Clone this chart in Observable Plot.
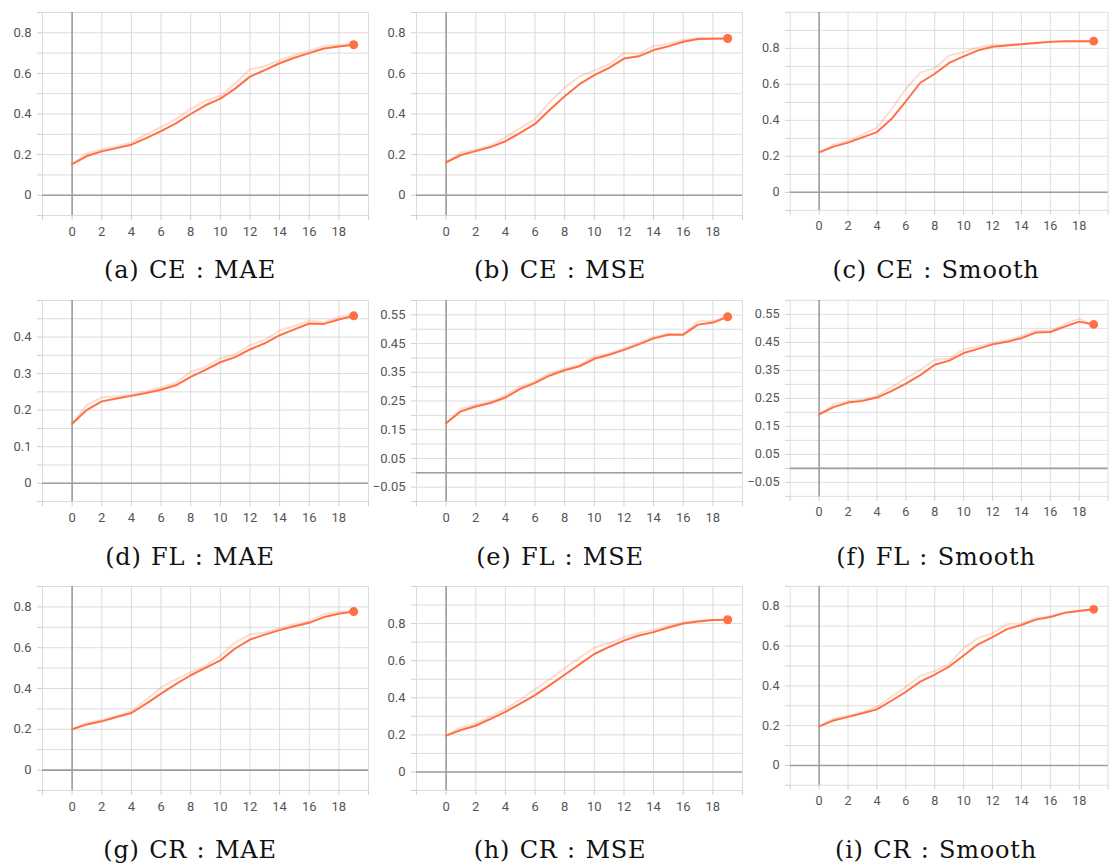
<!DOCTYPE html>
<html>
<head>
<meta charset="utf-8">
<script src="https://cdn.jsdelivr.net/npm/d3@7"></script>
<script src="https://cdn.jsdelivr.net/npm/@observablehq/plot@0.6"></script>
<style>
  html, body { margin: 0; padding: 0; background: #fff; overflow: hidden; }
  #root { position: relative; width: 1113px; height: 866px; }
  .panel { position: absolute; }
  .panel svg { overflow: visible; }
  .caption {
    position: absolute; width: 300px; text-align: center;
    font-family: "DejaVu Serif", serif; font-size: 24px; line-height: 30px;
    letter-spacing: 0.8px; word-spacing: 1px; color: #111; white-space: nowrap;
  }
</style>
</head>
<body>
<div id="root"></div>
<script>
// ---------- data ----------
const epochs = [0,1,2,3,4,5,6,7,8,9,10,11,12,13,14,15,16,17,18,19];
const xTickLabels = [0,2,4,6,8,10,12,14,16,18];
const xGridValues = [-2,0,2,4,6,8,10,12,14,16,18,20];

const captions = [
  "(a) CE : MAE", "(b) CE : MSE", "(c) CE : Smooth",
  "(d) FL : MAE", "(e) FL : MSE", "(f) FL : Smooth",
  "(g) CR : MAE", "(h) CR : MSE", "(i) CR : Smooth"
];

// smoothed (dark) and raw (light) curves
const ceMaeSmooth = [0.153,0.193,0.216,0.232,0.249,0.281,0.316,0.354,0.400,0.443,0.476,0.525,0.584,0.616,0.650,0.677,0.700,0.723,0.733,0.741];
const ceMaeRaw    = [0.153,0.205,0.225,0.240,0.260,0.300,0.335,0.375,0.425,0.465,0.490,0.550,0.620,0.635,0.665,0.690,0.710,0.735,0.740,0.745];
const ceMseSmooth = [0.162,0.198,0.217,0.237,0.266,0.307,0.351,0.421,0.487,0.547,0.591,0.627,0.673,0.684,0.715,0.733,0.756,0.769,0.771,0.772];
const ceMseRaw    = [0.162,0.210,0.225,0.245,0.285,0.330,0.375,0.460,0.530,0.585,0.615,0.645,0.700,0.695,0.735,0.745,0.765,0.775,0.775,0.772];
const ceSmSmooth  = [0.222,0.254,0.276,0.305,0.335,0.407,0.506,0.609,0.659,0.719,0.755,0.789,0.809,0.816,0.823,0.830,0.836,0.840,0.840,0.840];
const ceSmRaw     = [0.222,0.265,0.285,0.320,0.360,0.460,0.575,0.665,0.690,0.760,0.780,0.805,0.820,0.820,0.825,0.832,0.838,0.840,0.840,0.840];
const flMaeSmooth = [0.163,0.201,0.224,0.232,0.239,0.247,0.256,0.268,0.291,0.310,0.331,0.345,0.366,0.383,0.405,0.421,0.437,0.436,0.448,0.458];
const flMaeRaw    = [0.163,0.215,0.235,0.237,0.242,0.252,0.262,0.275,0.305,0.318,0.342,0.352,0.378,0.392,0.418,0.430,0.445,0.440,0.455,0.462];
const flMseSmooth = [0.173,0.214,0.231,0.243,0.262,0.292,0.313,0.339,0.357,0.371,0.397,0.411,0.428,0.447,0.468,0.481,0.481,0.516,0.523,0.543];
const flMseRaw    = [0.173,0.222,0.236,0.248,0.270,0.300,0.318,0.347,0.362,0.376,0.405,0.415,0.432,0.452,0.474,0.484,0.482,0.528,0.528,0.545];
const flSmSmooth  = [0.193,0.219,0.235,0.241,0.253,0.276,0.303,0.333,0.370,0.385,0.412,0.427,0.443,0.452,0.465,0.485,0.487,0.506,0.524,0.514];
const flSmRaw     = [0.193,0.228,0.240,0.245,0.258,0.290,0.322,0.352,0.388,0.392,0.425,0.435,0.448,0.458,0.472,0.492,0.490,0.515,0.535,0.510];
const crMaeSmooth = [0.200,0.224,0.239,0.260,0.280,0.326,0.375,0.421,0.465,0.501,0.538,0.596,0.640,0.664,0.686,0.705,0.722,0.750,0.766,0.777];
const crMaeRaw    = [0.200,0.232,0.245,0.265,0.290,0.345,0.405,0.445,0.480,0.510,0.560,0.625,0.665,0.675,0.695,0.715,0.730,0.765,0.775,0.780];
const crMseSmooth = [0.196,0.226,0.249,0.286,0.324,0.368,0.414,0.468,0.524,0.580,0.636,0.674,0.708,0.736,0.754,0.779,0.800,0.811,0.820,0.821];
const crMseRaw    = [0.196,0.240,0.260,0.300,0.340,0.390,0.445,0.500,0.560,0.615,0.670,0.695,0.725,0.750,0.765,0.790,0.805,0.815,0.820,0.821];
const crSmSmooth  = [0.196,0.226,0.244,0.262,0.282,0.325,0.370,0.421,0.457,0.497,0.553,0.609,0.645,0.685,0.706,0.733,0.746,0.767,0.776,0.785];
const crSmRaw     = [0.196,0.235,0.250,0.268,0.295,0.345,0.395,0.450,0.475,0.510,0.590,0.640,0.665,0.710,0.715,0.740,0.750,0.770,0.780,0.785];

// y tick labels per panel
const yLabels01 = [0,0.2,0.4,0.6,0.8];
const yLabelsFL = [0,0.1,0.2,0.3,0.4];
const yLabels05 = [-0.05,0.05,0.15,0.25,0.35,0.45,0.55];

// y axis domains (grid range) and minor grid step
const yDomains = [[-0.1,0.9],[-0.1,0.9],[-0.1,1.0],[-0.05,0.5],[-0.1,0.6],[-0.1,0.6],[-0.1,0.9],[-0.1,1.0],[-0.1,0.9]];
const yGridSteps = [0.1,0.1,0.1,0.05,0.05,0.05,0.1,0.1,0.1];
const yTickSets = [yLabels01,yLabels01,yLabels01,yLabelsFL,yLabels05,yLabels05,yLabels01,yLabels01,yLabels01];
const smoothSeries = [ceMaeSmooth,ceMseSmooth,ceSmSmooth,flMaeSmooth,flMseSmooth,flSmSmooth,crMaeSmooth,crMseSmooth,crSmSmooth];
const rawSeries = [ceMaeRaw,ceMseRaw,ceSmRaw,flMaeRaw,flMseRaw,flSmRaw,crMaeRaw,crMseRaw,crSmRaw];

// ---------- layout ----------
const colFrameLeft = [42, 415.5, 790.5];
const rowFrameTop = [11.5, 300, 586];
const rowFrameH = [203, 201, 204];
const frameW = 326;
const capCenterX = [190, 560, 936];
const capCenterY = [270, 557, 850];
const mL = 50, mR = 6, mT = 4, mB = 30;
const ORANGE = "#ff7043";

const root = document.getElementById("root");

for (let p = 0; p < 9; p++) {
  const r = Math.floor(p / 3), c = p % 3;
  const [y0, y1] = yDomains[p];
  const step = yGridSteps[p];
  const n = Math.round((y1 - y0) / step);
  const yGrid = d3.range(n + 1).map(i => +(y0 + i * step).toFixed(3));
  const fmt = p === 4 || p === 5 ? d3.format(".2f") : (d => String(d));
  const rows = epochs.map((e, i) => ({epoch: e, raw: rawSeries[p][i], smooth: smoothSeries[p][i]}));

  const chart = Plot.plot({
    width: mL + frameW + mR,
    height: mT + rowFrameH[r] + mB,
    marginLeft: mL, marginRight: mR, marginTop: mT, marginBottom: mB,
    x: {domain: [-2, 20], label: null},
    y: {domain: [y0, y1], label: null},
    style: {fontFamily: "Roboto, 'Liberation Sans', sans-serif", fontSize: "13px", background: "transparent", overflow: "visible"},
    marks: [
      Plot.gridX(xGridValues, {stroke: "#dcdcdc", strokeOpacity: 1, strokeWidth: 1}),
      Plot.gridY(yGrid, {stroke: "#dcdcdc", strokeOpacity: 1, strokeWidth: 1}),
      Plot.axisX(xGridValues, {tickSize: 5, tickFormat: () => "", stroke: "#cfcfcf", label: null}),
      Plot.axisX(xTickLabels, {tickSize: 0, tickPadding: 11, fontSize: 13, fill: "#555", stroke: "none", label: null}),
      Plot.axisY(yGrid, {tickSize: 5, tickFormat: () => "", stroke: "#cfcfcf", label: null}),
      Plot.axisY(yTickSets[p], {tickSize: 0, tickPadding: 11, fontSize: 13, tickFormat: fmt, fill: "#555", stroke: "none", label: null}),
      Plot.ruleY([0], {stroke: "#9e9e9e", strokeWidth: 1.6}),
      Plot.ruleX([0], {stroke: "#9e9e9e", strokeWidth: 1.6}),
      Plot.line(rows, {x: "epoch", y: "raw", stroke: ORANGE, strokeOpacity: 0.25, strokeWidth: 2}),
      Plot.line(rows, {x: "epoch", y: "smooth", stroke: ORANGE, strokeWidth: 2}),
      Plot.dot(rows.slice(-1), {x: "epoch", y: "smooth", r: 4.5, fill: ORANGE, stroke: "none"})
    ]
  });

  const div = document.createElement("div");
  div.className = "panel";
  div.style.left = (colFrameLeft[c] - mL) + "px";
  div.style.top = (rowFrameTop[r] - mT) + "px";
  div.appendChild(chart);
  root.appendChild(div);

  const cap = document.createElement("div");
  cap.className = "caption";
  cap.textContent = captions[p];
  cap.style.left = (capCenterX[c] - 150) + "px";
  cap.style.top = (capCenterY[r] - 15) + "px";
  root.appendChild(cap);
}
</script>
</body>
</html>
